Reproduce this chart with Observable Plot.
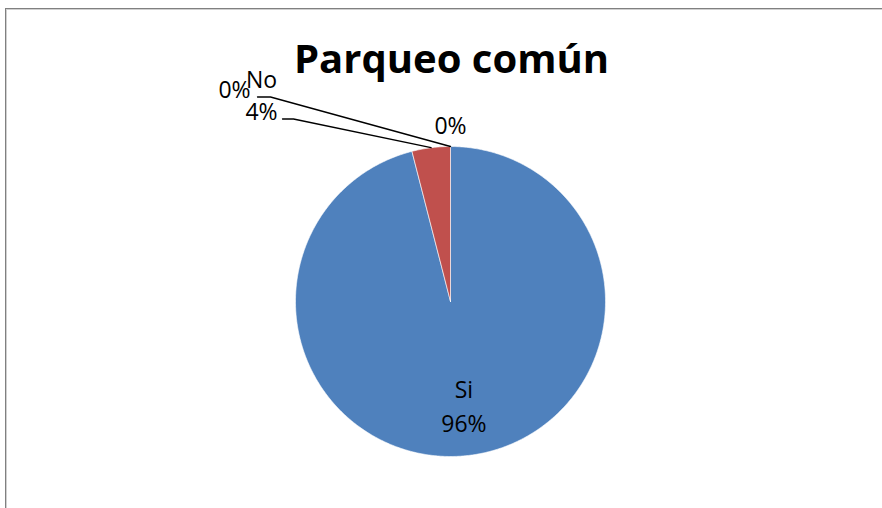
<!DOCTYPE html>
<html>
<head>
<meta charset="utf-8">
<script src="https://cdn.jsdelivr.net/npm/d3@7"></script>
<script src="https://cdn.jsdelivr.net/npm/@observablehq/plot@0.6"></script>
<style>
  html, body { margin: 0; padding: 0; background: #fff; overflow: hidden; }
  #wrap { position: relative; width: 882px; height: 508px; overflow: hidden; }
  #border { position: absolute; left: 5px; top: 8px; width: 900px; height: 520px;
            border-left: 1px solid #808080; border-top: 1px solid #808080;
            box-shadow: inset 1px 1px 0 #d0d0d0; }
  #chart { position: absolute; left: 0; top: 0; }
</style>
</head>
<body>
<div id="wrap"><div id="border"></div><div id="chart"></div></div>
<script>
const title = "Parqueo común";
const categories = ["Si", "No", "", ""];
const values = [96, 4, 0, 0];
const percentLabels = ["96%", "4%", "0%", "0%"];
const colors = ["#4F81BD", "#C0504D", "#9BBB59", "#8064A2"];

// layout (pixels / unit radius)
const W = 882, H = 508, R = 155, CX = 450, CY = 301;
const font = "'Open Sans', sans-serif";

const arcs = d3.pie().sort(null).value(d => d)(values);
const pt = (a, r) => [r * Math.sin(a), r * Math.cos(a)];

// slice polygons
const slicePts = [];
arcs.forEach((a, i) => {
  if (a.endAngle - a.startAngle <= 0) return;
  const n = Math.max(2, Math.ceil((a.endAngle - a.startAngle) / (Math.PI / 360)));
  slicePts.push({x: 0, y: 0, k: i});
  for (let j = 0; j <= n; j++) {
    const t = a.startAngle + (a.endAngle - a.startAngle) * j / n;
    const [x, y] = pt(t, 1);
    slicePts.push({x, y, k: i});
  }
  slicePts.push({x: 0, y: 0, k: i});
});

// label placement (unit coords relative to pie centre)
const u = (px, py) => ({x: (px - CX) / R, y: (CY - py) / R});
const mid = a => (a.startAngle + a.endAngle) / 2;
const textItems = [];
// inside label for the big slice
{
  const [x, y] = pt(mid(arcs[0]), 0.69);
  textItems.push({x, y: y + 0.11, t: categories[0]});
  textItems.push({x, y: y - 0.11, t: percentLabels[0]});
}
// outside labels (Excel best-fit placement)
const outPos = [null, u(261, 96), u(234, 90), null];
textItems.push({...u(261, 80), t: categories[1]});
textItems.push({...u(261, 112), t: percentLabels[1]});
textItems.push({...outPos[2], t: percentLabels[2]});
{
  const [x, y] = pt(mid(arcs[3]), 1.13);
  textItems.push({x, y, t: percentLabels[3]});
}

// leader lines
const leaders = [];
{
  const [ex, ey] = pt(mid(arcs[1]), 1);
  const a = u(282, 118.5), b = u(293, 118.5);
  leaders.push({x: a.x, y: a.y, k: 1}, {x: b.x, y: b.y, k: 1}, {x: ex, y: ey, k: 1});
}
{
  const [ex, ey] = pt(mid(arcs[2]), 1);
  const a = u(257, 96.5), b = u(270, 96.5);
  leaders.push({x: a.x, y: a.y, k: 2}, {x: b.x, y: b.y, k: 2}, {x: ex, y: ey, k: 2});
}

const titleItem = [{...u(451, 60), t: title}];

const chart = Plot.plot({
  width: W, height: H,
  margin: 0,
  x: {domain: [-CX / R, (W - CX) / R], axis: null},
  y: {domain: [-(H - CY) / R, CY / R], axis: null},
  style: {background: "transparent"},
  marks: [
    Plot.line(slicePts, {x: "x", y: "y", z: "k", fill: d => colors[d.k], stroke: "#ffffff", strokeWidth: 0.6, curve: "linear"}),
    Plot.line(leaders, {x: "x", y: "y", z: "k", stroke: "#000", strokeWidth: 1.3}),
    Plot.text(textItems, {x: "x", y: "y", text: "t", fontSize: 23, fontFamily: font, fill: "#000"}),
    Plot.text(titleItem, {x: "x", y: "y", text: "t", fontSize: 40, fontWeight: "bold", fontFamily: font, fill: "#000"})
  ]
});
document.getElementById("chart").appendChild(chart);
</script>
</body>
</html>
